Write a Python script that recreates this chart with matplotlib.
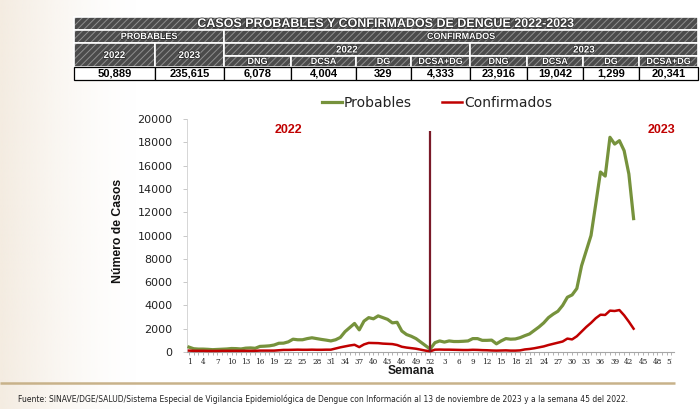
import matplotlib
matplotlib.use("Agg")
import matplotlib.pyplot as plt
import numpy as np
from matplotlib.patches import Rectangle
from matplotlib.transforms import Bbox, TransformedBbox
import matplotlib.patheffects as pe

# datos
weeks_2022 = list(range(1, 53))
prob_2022 = [420, 280, 250, 250, 230, 200, 220, 240, 260, 300,
             290, 260, 330, 350, 320, 480, 500, 530, 600, 750,
             760, 870, 1100, 1050, 1050, 1150, 1220, 1150, 1080, 1020,
             950, 1050, 1250, 1750, 2100, 2450, 1900, 2650, 2950, 2850,
             3100, 2950, 2800, 2500, 2550, 1800, 1500, 1350, 1150, 850,
             550, 250]
conf_2022 = [120, 100, 100, 100, 90, 90, 90, 100, 100, 100,
             100, 100, 100, 100, 100, 120, 120, 120, 120, 150,
             180, 180, 190, 200, 190, 190, 200, 190, 190, 200,
             200, 300, 400, 480, 560, 620, 420, 650, 780, 770,
             760, 720, 700, 680, 600, 450, 380, 330, 280, 200,
             120, 60]

weeks_2023 = list(range(1, 44))
prob_2023 = [800, 950, 850, 950, 900, 900, 920, 950, 1150, 1150,
             1000, 1000, 1020, 700, 950, 1150, 1100, 1120, 1230, 1400,
             1550, 1850, 2150, 2500, 2950, 3250, 3500, 4000, 4700, 4900,
             5450, 7400, 8700, 10000, 12700, 15450, 15100, 18430, 17850, 18140,
             17280, 15280, 11450]
conf_2023 = [200, 210, 200, 200, 190, 180, 170, 170, 190, 180,
             160, 150, 130, 120, 130, 140, 120, 120, 140, 220,
             260, 320, 400, 480, 600, 700, 800, 900, 1150, 1080,
             1350, 1750, 2150, 2500, 2900, 3200, 3180, 3550, 3520, 3600,
             3150, 2600, 2000]

table_title = "CASOS PROBABLES Y CONFIRMADOS DE DENGUE 2022-2023"
prob_years = ["2022", "2023"]
prob_totals = [50889, 235615]
conf_types = ["DNG", "DCSA", "DG", "DCSA+DG"]
conf_totals_2022 = [6078, 4004, 329, 4333]
conf_totals_2023 = [23916, 19042, 1299, 20341]

fuente = ("Fuente: SINAVE/DGE/SALUD/Sistema Especial de Vigilancia Epidemiológica de Dengue "
          "con Información al 13 de noviembre de 2023 y a la semana 45 del 2022.")

W, H = 700, 409
fig = plt.figure(figsize=(7, 4.09), dpi=100)
fig.patch.set_facecolor("white")

# capa de fondo en pixeles
bg = fig.add_axes([0, 0, 1, 1], zorder=-1)
bg.set_xlim(0, W)
bg.set_ylim(H, 0)
bg.axis("off")

# tono crema a la izquierda
grad = np.linspace(1, 0, 200).reshape(1, -1)
cream = np.zeros((1, 200, 4))
cream[..., :3] = np.array([0xf4, 0xec, 0xe1]) / 255
cream[..., 3] = grad ** 1.5
bg.imshow(cream, extent=[0, 140, H, 0], aspect="auto", interpolation="bilinear")

# tabla
cols = [74, 155, 224, 291, 356, 411, 470, 527, 583, 639, 698]
rows = [17, 30, 43, 56, 67, 80]
plt.rcParams["hatch.linewidth"] = 0.7


def dark_cell(x0, x1, y0, y1):
    bg.add_patch(Rectangle((x0, y0), x1 - x0, y1 - y0, facecolor="#4b4b4b",
                           edgecolor="#8f8f8f", hatch="/////", lw=0))
    bg.add_patch(Rectangle((x0, y0), x1 - x0, y1 - y0, fill=False,
                           edgecolor="white", lw=1.2))


def head_text(x, y, s, size):
    bg.text(x, y, s, ha="center", va="center", color="white", fontsize=size,
            fontweight="bold", family="Liberation Sans",
            path_effects=[pe.withStroke(linewidth=1, foreground="#2a2a2a")])


dark_cell(cols[0], cols[-1], rows[0], rows[1])
head_text((cols[0] + cols[-1]) / 2, (rows[0] + rows[1]) / 2 + 0.5, table_title, 9)
dark_cell(cols[0], cols[2], rows[1], rows[2])
head_text((cols[0] + cols[2]) / 2, (rows[1] + rows[2]) / 2, "PROBABLES", 6.5)
dark_cell(cols[2], cols[-1], rows[1], rows[2])
head_text((cols[2] + cols[-1]) / 2, (rows[1] + rows[2]) / 2, "CONFIRMADOS", 6.5)
for i, yr in enumerate(prob_years):
    dark_cell(cols[i], cols[i + 1], rows[2], rows[4])
    head_text((cols[i] + cols[i + 1]) / 2, (rows[2] + rows[4]) / 2, yr, 7)
for b, yr in enumerate(prob_years):
    c0, c1 = cols[2 + 4 * b], cols[6 + 4 * b]
    dark_cell(c0, c1, rows[2], rows[3])
    head_text((c0 + c1) / 2, (rows[2] + rows[3]) / 2, yr, 7)
    for j, t in enumerate(conf_types):
        k = 2 + 4 * b + j
        dark_cell(cols[k], cols[k + 1], rows[3], rows[4])
        head_text((cols[k] + cols[k + 1]) / 2, (rows[3] + rows[4]) / 2, t, 6.5)

values = prob_totals + conf_totals_2022 + conf_totals_2023
for k, v in enumerate(values):
    bg.add_patch(Rectangle((cols[k], rows[4]), cols[k + 1] - cols[k], rows[5] - rows[4],
                           facecolor="white", edgecolor="black", lw=0.9))
    bg.text((cols[k] + cols[k + 1]) / 2, (rows[4] + rows[5]) / 2 + 0.5, f"{v:,}",
            ha="center", va="center", fontsize=8, fontweight="bold",
            family="Liberation Sans", color="black")

# linea dorada y fuente
bg.plot([0, 675], [383, 383], color="#c8b28a", lw=1.8, solid_capstyle="butt")
bg.text(18, 399, fuente, fontsize=5.5, va="center", ha="left", color="#222222")

# grafica principal
x0, x1 = 186.6, 673.8
y0, y1 = 352, 119
ax = fig.add_axes([x0 / W, (H - y0) / H, (x1 - x0) / W, (y0 - y1) / H])
ax.set_facecolor("none")

xpos = weeks_2022 + [52 + w for w in weeks_2023]
ax.plot(xpos, prob_2022 + prob_2023, color="#76923c", lw=2.3, clip_on=False,
        solid_joinstyle="round", label="Probables", zorder=3)
ax.plot(xpos, conf_2022 + conf_2023, color="#c00000", lw=1.8, clip_on=False,
        solid_joinstyle="round", label="Confirmados", zorder=4)
ax.vlines(52, 0, 19000, color="#7a1a28", lw=1.6, zorder=5)

ax.set_xlim(0.5, 103.5)
ax.set_ylim(0, 20000)
ax.set_yticks(range(0, 20001, 2000))
ax.set_yticklabels([str(v) for v in range(0, 20001, 2000)], fontsize=8,
                   family="DejaVu Sans", color="#222222")
ticks = list(range(1, 104, 3))
ax.set_xticks(ticks)
ax.set_xticklabels([str(p if p <= 52 else p - 52) for p in ticks], fontsize=5.2,
                   family="DejaVu Serif", color="#222222")
ax.set_xticks(range(1, 104), minor=True)
ax.tick_params(axis="x", which="both", length=2, width=0.6, color="#a6a6a6", pad=2)
ax.tick_params(axis="y", length=3, width=0.6, color="#bfbfbf", pad=7)
for s in ["top", "right"]:
    ax.spines[s].set_visible(False)
ax.spines["bottom"].set_color("#a6a6a6")
ax.spines["bottom"].set_linewidth(0.8)
ax.spines["left"].set_color("#d0d0d0")
ax.spines["left"].set_linewidth(0.6)

clip = TransformedBbox(Bbox([[0, 0], [672 / W, 1]]), fig.transFigure)
for lbl in ax.get_xticklabels():
    lbl.set_clip_box(clip)
    lbl.set_clip_on(True)

leg = ax.legend(loc="center", bbox_to_anchor=(437 / W, (H - 103) / H),
                bbox_transform=fig.transFigure, ncol=2, frameon=False,
                fontsize=10, handlelength=1.45, handletextpad=0.15,
                columnspacing=2.2)
for t in leg.get_texts():
    t.set_color("#222222")

fig.text(288 / W, (H - 130) / H, "2022", color="#c00000", fontsize=9,
         fontweight="bold", family="Liberation Sans", ha="center", va="center")
fig.text(661 / W, (H - 130) / H, "2023", color="#c00000", fontsize=9,
         fontweight="bold", family="Liberation Sans", ha="center", va="center")
fig.text(118 / W, (H - 231) / H, "Número de Casos", rotation=90, fontsize=8.8,
         fontweight="bold", family="Liberation Sans",
         ha="center", va="center", color="#111111")
fig.text(411 / W, (H - 371) / H, "Semana", fontsize=8.7, fontweight="bold",
         family="Liberation Sans", ha="center", va="center", color="#1a1a1a")

fig.savefig("out.png", dpi=100)
